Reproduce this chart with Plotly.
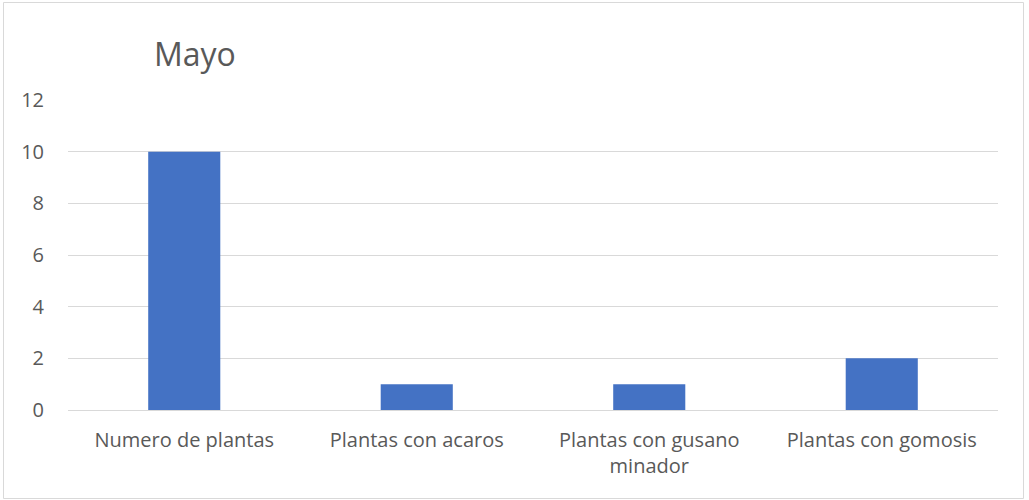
import plotly.graph_objects as go

# Chart data
categories = ["Numero de plantas", "Plantas con acaros", "Plantas con gusano<br>minador", "Plantas con gomosis"]
values = [10, 1, 1, 2]
y_ticks = [0, 2, 4, 6, 8, 10, 12]

W, H = 1029, 500
L, R, T, B = 68, 31, 100, 90
pw, ph = W - L - R, H - T - B

def px_x(x):
    return (x - L) / pw

def px_y(y):
    return (H - B - y) / ph

fig = go.Figure(
    go.Bar(
        x=categories,
        y=values,
        marker=dict(color="#4472C4", line=dict(width=0)),
        width=0.31,
    )
)

font_family = "Open Sans, Noto Sans, sans-serif"

fig.update_layout(
    width=W,
    height=H,
    margin=dict(l=L, r=R, t=T, b=B),
    paper_bgcolor="white",
    plot_bgcolor="white",
    showlegend=False,
    title=dict(
        text="Mayo",
        font=dict(family=font_family, size=32, color="#595959"),
        x=154 / W,
        xanchor="left",
        xref="container",
        y=1 - 55 / H,
        yanchor="middle",
        yref="container",
    ),
    xaxis=dict(
        showgrid=False,
        showline=False,
        ticks="",
        ticklabelstandoff=16,
        tickfont=dict(family=font_family, size=20, color="#595959"),
    ),
    yaxis=dict(
        range=[0, 12],
        tickvals=y_ticks,
        showgrid=True,
        gridcolor="#d9d9d9",
        gridwidth=1,
        zeroline=True,
        zerolinecolor="#d9d9d9",
        zerolinewidth=1,
        showline=False,
        ticks="",
        ticklabelstandoff=23,
        tickfont=dict(family=font_family, size=20, color="#595959"),
    ),
    bargap=0.69,
    shapes=[
        dict(
            type="rect",
            xref="paper",
            yref="paper",
            x0=px_x(3.5),
            x1=px_x(1023.5),
            y0=px_y(498.5),
            y1=px_y(2.5),
            line=dict(color="#d9d9d9", width=1),
            fillcolor="rgba(0,0,0,0)",
            layer="below",
        )
    ],
)

fig.write_html("out.html")
